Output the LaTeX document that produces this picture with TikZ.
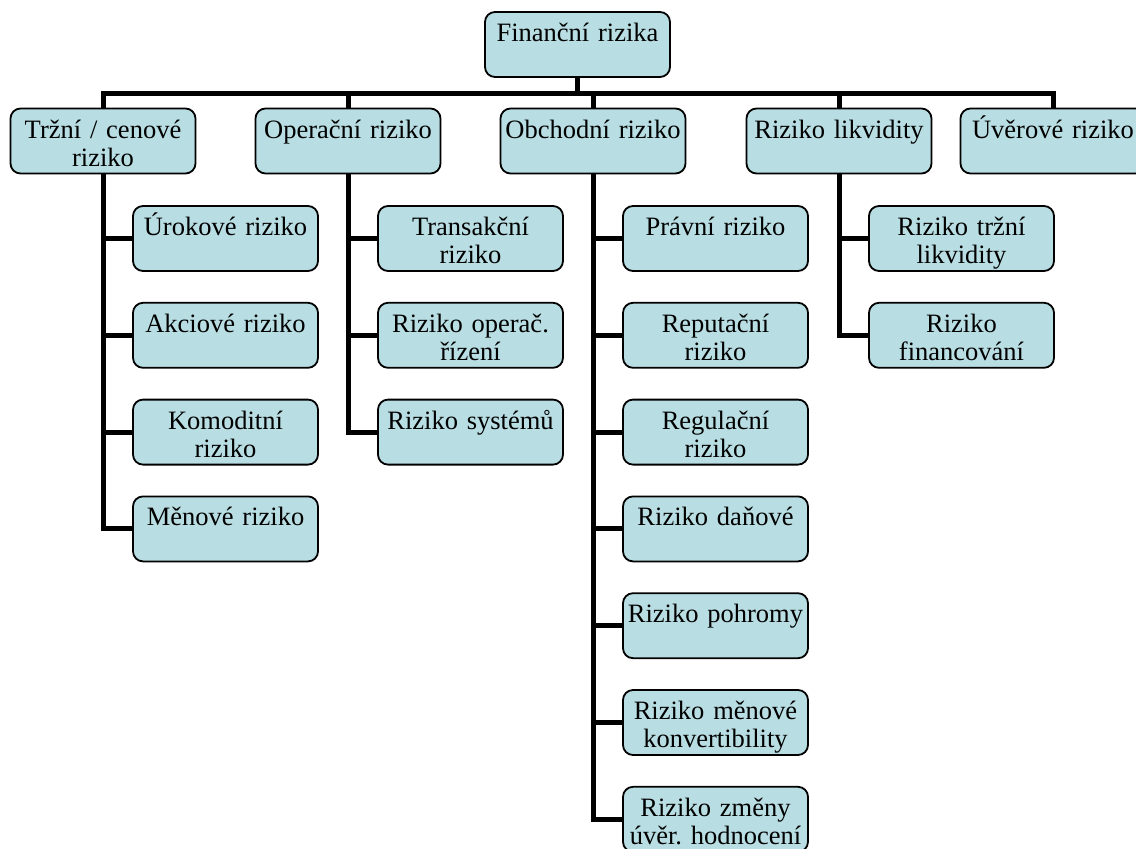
\documentclass[tikz,border=0pt]{standalone}
\usepackage{fontspec}
\setmainfont{Liberation Serif}
\definecolor{boxblue}{RGB}{184,222,227}
\frenchspacing

\begin{document}
\begin{tikzpicture}[
    x=0.5pt, y=-0.5pt,
    riskbox/.style = {draw, line width=0.9pt, rounded corners=5pt,
                      fill=boxblue, minimum width=92.5pt,
                      text width=88pt, align=center,
                      inner xsep=2.25pt, inner ysep=3pt,
                      text height=11.75pt, text depth=14.75pt,
                      font=\fontsize{13.25}{14}\selectfont},
    link/.style    = {line width=2.5pt},
]
\useasboundingbox (0,0) rectangle (1136,848);

% ============================================================
%  TOP LEVEL
% ============================================================
\node[riskbox] (root) at (577.5, 44.5) {Finanční rizika};

% ----------------------------------------------------------
%  main groups (row at y = 141)
% ----------------------------------------------------------
\node[riskbox] (trz)  at (103,  141) {Tržní / cenové\\riziko};
\node[riskbox] (oper) at (348,  141) {Operační riziko};
\node[riskbox] (obch) at (593,  141) {Obchodní riziko};
\node[riskbox] (likv) at (839,  141) {Riziko likvidity};
\node[riskbox] (uver) at (1053, 141) {Úvěrové riziko};

% ----------------------------------------------------------
%  Tržní / cenové riziko
% ----------------------------------------------------------
\node[riskbox] (urok) at (225.5, 238.5) {Úrokové riziko};
\node[riskbox] (akc)  at (225.5, 335.3) {Akciové riziko};
\node[riskbox] (kom)  at (225.5, 432.1) {Komoditní\\riziko};
\node[riskbox] (men)  at (225.5, 528.9) {Měnové riziko};

% ----------------------------------------------------------
%  Operační riziko
% ----------------------------------------------------------
\node[riskbox] (trans) at (470.5, 238.5) {Transakční\\riziko};
\node[riskbox] (rizop) at (470.5, 335.3) {Riziko operač.\\řízení};
\node[riskbox] (sys)   at (470.5, 432.1) {Riziko systémů};

% ----------------------------------------------------------
%  Obchodní riziko
% ----------------------------------------------------------
\node[riskbox] (prav) at (715.5, 238.5) {Právní riziko};
\node[riskbox] (rep)  at (715.5, 335.3) {Reputační\\riziko};
\node[riskbox] (reg)  at (715.5, 432.1) {Regulační\\riziko};
\node[riskbox] (dan)  at (715.5, 528.9) {Riziko daňové};
\node[riskbox] (poh)  at (715.5, 625.7) {Riziko pohromy};
\node[riskbox] (konv) at (715.5, 722.5) {Riziko měnové\\konvertibility};
\node[riskbox] (hodn) at (715.5, 819.3) {Riziko změny\\úvěr. hodnocení};

% ----------------------------------------------------------
%  Riziko likvidity
% ----------------------------------------------------------
\node[riskbox] (trzlik) at (961.5, 238.5) {Riziko tržní\\likvidity};
\node[riskbox] (fin)    at (961.5, 335.3) {Riziko\\financování};

% ============================================================
%  CONNECTORS
% ============================================================
\coordinate (bar) at (577.5, 93);
\draw[link] (root.south) -- (root.south |- bar);
\draw[link] (trz.north) |- (bar) -| (uver.north);
\foreach \g in {oper, obch, likv}
    \draw[link] (\g.north) -- (\g.north |- bar);

\foreach \c in {urok, akc, kom, men}
    \draw[link] (trz.south) |- (\c.west);
\foreach \c in {trans, rizop, sys}
    \draw[link] (oper.south) |- (\c.west);
\foreach \c in {prav, rep, reg, dan, poh, konv, hodn}
    \draw[link] (obch.south) |- (\c.west);
\foreach \c in {trzlik, fin}
    \draw[link] (likv.south) |- (\c.west);

\end{tikzpicture}
\end{document}
